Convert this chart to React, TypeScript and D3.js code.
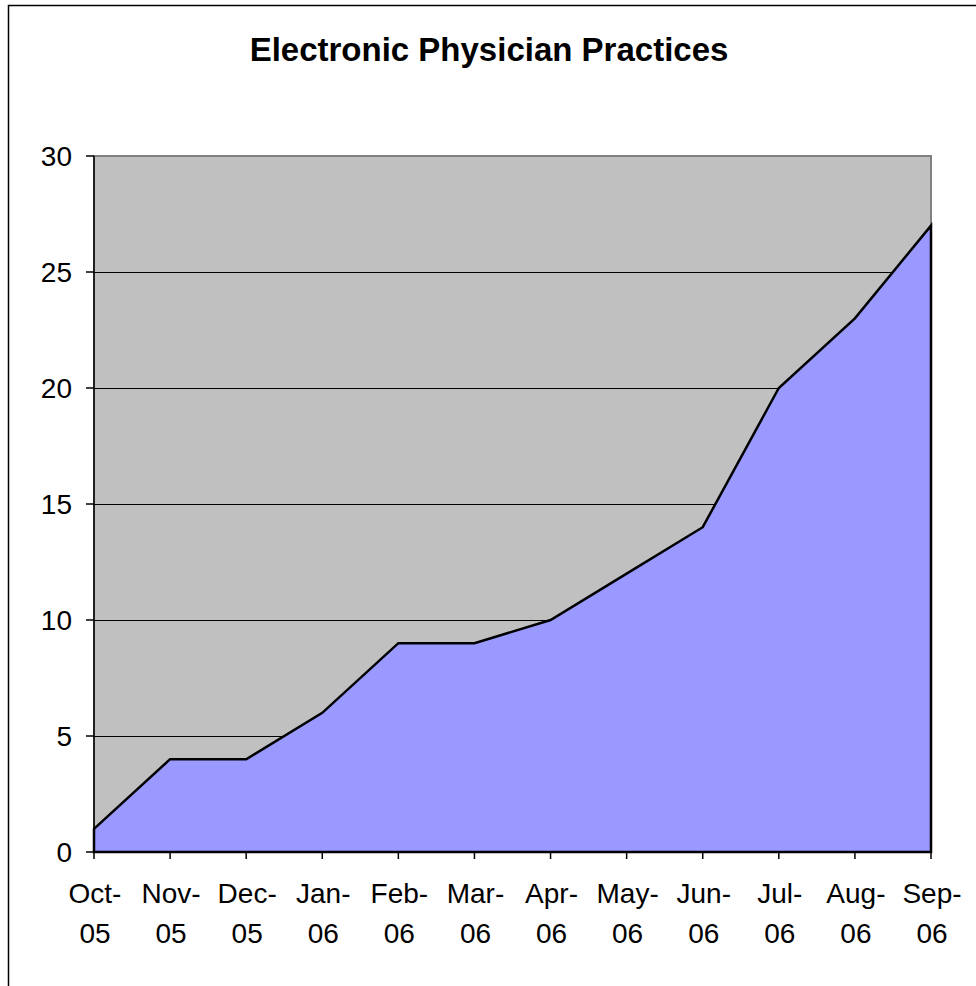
import React from "react";
import * as d3 from "d3";

const months = ["Oct-05", "Nov-05", "Dec-05", "Jan-06", "Feb-06", "Mar-06", "Apr-06", "May-06", "Jun-06", "Jul-06", "Aug-06", "Sep-06"];
const practices = [1, 4, 4, 6, 9, 9, 10, 12, 14, 20, 23, 27];
const yTicks = [0, 5, 10, 15, 20, 25, 30];

const W = 976;
const H = 986;
const plot = { left: 94, right: 931, top: 156, bottom: 852 };
const font = "Arial, 'Liberation Sans', sans-serif";

export default function App() {
  const x = d3.scalePoint<string>().domain(months).range([plot.left, plot.right]);
  const y = d3.scaleLinear().domain([0, 30]).range([plot.bottom, plot.top]);

  const area = d3
    .area<number>()
    .x((d, i) => x(months[i]) as number)
    .y0(y(0))
    .y1((d) => y(d));

  return (
    <svg width={W} height={H} style={{ position: "absolute", left: 0, top: 0 }} fontFamily={font}>
      <rect x={0} y={0} width={W} height={H} fill="#fff" />
      {/* chart border, runs off the right/bottom edge */}
      <rect x={8.5} y={5.5} width={1200} height={1200} fill="none" stroke="#000" strokeWidth={1.5} />

      <text x={489} y={61} textAnchor="middle" fontSize={33} fontWeight="bold">
        Electronic Physician Practices
      </text>

      {/* plot area */}
      <rect x={plot.left} y={plot.top} width={plot.right - plot.left} height={plot.bottom - plot.top} fill="#C0C0C0" stroke="#808080" strokeWidth={2} />

      {yTicks.slice(1, -1).map((t) => (
        <line key={t} x1={plot.left} x2={plot.right} y1={y(t) + 0.5} y2={y(t) + 0.5} stroke="#000" strokeWidth={1} />
      ))}

      <path d={area(practices) || ""} fill="#9999FF" stroke="#000" strokeWidth={2.5} strokeLinejoin="miter" />

      {/* axes */}
      <line x1={plot.left} x2={plot.left} y1={plot.top} y2={plot.bottom} stroke="#000" strokeWidth={1.5} />
      <line x1={plot.left} x2={plot.right} y1={plot.bottom} y2={plot.bottom} stroke="#000" strokeWidth={2} />

      {yTicks.map((t) => (
        <g key={t}>
          <line x1={86} x2={plot.left} y1={y(t)} y2={y(t)} stroke="#000" strokeWidth={1.5} />
          <text x={72} y={y(t)} dy="0.36em" textAnchor="end" fontSize={28}>
            {t}
          </text>
        </g>
      ))}

      {months.map((m) => {
        const [mon, yr] = m.split("-");
        const cx = (x(m) as number) + 1;
        return (
          <g key={m}>
            <line x1={cx - 1} x2={cx - 1} y1={plot.bottom} y2={859} stroke="#000" strokeWidth={1.5} />
            <text x={cx} y={903} textAnchor="middle" fontSize={28}>
              {mon + "-"}
            </text>
            <text x={cx} y={943} textAnchor="middle" fontSize={28}>
              {yr}
            </text>
          </g>
        );
      })}
    </svg>
  );
}
